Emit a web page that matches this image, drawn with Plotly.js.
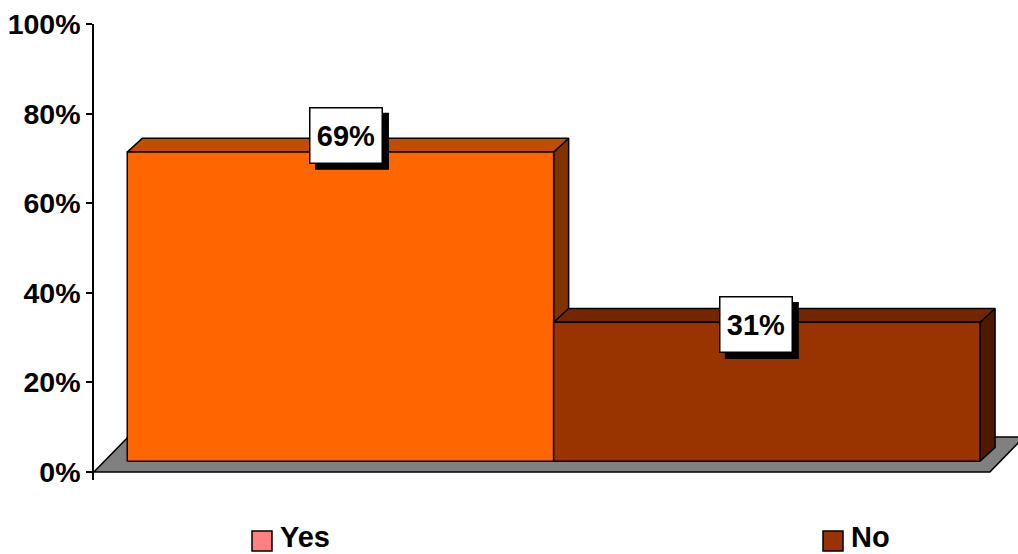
<!DOCTYPE html>
<html>
<head>
<meta charset="utf-8">
<script src="https://cdn.plot.ly/plotly-3.0.1.min.js"></script>
<style>html,body{margin:0;padding:0;background:#fff;}#chart{width:1018px;height:554px;}</style>
</head>
<body>
<div id="chart"></div>
<script>
// ---- data ----
const categories = ['Yes', 'No'];
const values = [69, 31];
const valueLabels = ['69%', '31%'];
const tickValues = [0, 20, 40, 60, 80, 100];
const tickLabels = ['0%', '20%', '40%', '60%', '80%', '100%'];

// ---- style ----
const frontColors = ['#FF6600', '#993300'];
const topColors = ['#C04D00', '#732600'];
const sideColors = ['#803300', '#4D1A00'];
const legendColors = ['#FF8080', '#993300'];
const FONT = '"Liberation Sans", Arial, sans-serif';

// 3D geometry in axis units
const HALF = 0.5;      // half bar width (categories 1 apart)
const BASE = 2.4;      // front face bottom above the floor front edge
const DX = 0.0352;     // depth offset x
const DY = 3.1;        // depth offset y
const XMIN = -0.578, XMAX = 1.589;
const FLOOR_DX = 0.08, FLOOR_DY = 7.8;

// plot-area pixel frame (for paper-coordinate legend placement)
const PL = 94, PW = 924, PB = 480, PH = 456;
const px2x = p => (p - PL) / PW;
const px2y = p => (PB - p) / PH;

const traces = [];
const line = {color: '#000', width: 1.5};

// floor
const fx0 = XMIN, fx1 = 1.523;
traces.push({
  type: 'scatter', mode: 'lines', fill: 'toself', fillcolor: '#808080',
  x: [fx0, fx0 + FLOOR_DX, fx1 + FLOOR_DX, fx1, fx0],
  y: [0, FLOOR_DY, FLOOR_DY, 0, 0],
  line: line, showlegend: false, hoverinfo: 'skip'
});

categories.forEach((c, i) => {
  const x0 = i - HALF, x1 = i + HALF;
  const top = values[i] + BASE;
  traces.push({
    type: 'scatter', mode: 'lines', fill: 'toself', fillcolor: sideColors[i],
    x: [x1, x1, x1 + DX, x1 + DX, x1],
    y: [BASE, top, top + DY, BASE + DY, BASE],
    line: line, showlegend: false, hoverinfo: 'skip'
  });
  traces.push({
    type: 'scatter', mode: 'lines', fill: 'toself', fillcolor: topColors[i],
    x: [x0, x0 + DX, x1 + DX, x1, x0],
    y: [top, top + DY, top + DY, top, top],
    line: line, showlegend: false, hoverinfo: 'skip'
  });
  traces.push({
    type: 'scatter', mode: 'lines', fill: 'toself', fillcolor: frontColors[i],
    x: [x0, x0, x1, x1, x0],
    y: [BASE, top, top, BASE, BASE],
    line: line, showlegend: false, name: c,
    hovertemplate: c + ': ' + values[i] + '%<extra></extra>'
  });
});

// data labels with shadows
const labelShiftX = [5.5, -11];
const labelShiftY = [3, -16];
const BOXW = 74, BOXH = 57, SH = 6;
const annotations = [];
const shapes = [];
categories.forEach((c, i) => {
  const ya = values[i] + BASE + DY;
  shapes.push({
    type: 'rect', xref: 'x', yref: 'y', xsizemode: 'pixel', ysizemode: 'pixel',
    xanchor: i, yanchor: ya,
    x0: labelShiftX[i] - BOXW / 2 + SH, x1: labelShiftX[i] + BOXW / 2 + SH,
    y0: labelShiftY[i] - BOXH / 2 - SH, y1: labelShiftY[i] + BOXH / 2 - SH,
    fillcolor: '#000', line: {width: 0}, layer: 'above'
  });
  annotations.push({
    x: i, y: ya, xref: 'x', yref: 'y', showarrow: false,
    xshift: labelShiftX[i], yshift: labelShiftY[i],
    text: valueLabels[i], width: BOXW - 3, height: BOXH - 3, borderpad: 0, borderwidth: 1.5,
    bgcolor: '#fff', bordercolor: '#000',
    font: {family: FONT, size: 29, weight: 'bold', color: '#000'}
  });
});

// legend (drawn as key squares + labels)
const legendSquareLeft = [252, 823];
const legendTextLeft = [279, 850];
categories.forEach((c, i) => {
  shapes.push({
    type: 'rect', xref: 'paper', yref: 'paper',
    x0: px2x(legendSquareLeft[i]), x1: px2x(legendSquareLeft[i] + 20),
    y0: px2y(551), y1: px2y(531),
    fillcolor: legendColors[i], line: {color: '#000', width: 1.5}, layer: 'above'
  });
  annotations.push({
    x: px2x(legendTextLeft[i]), y: px2y(554), xref: 'paper', yref: 'paper',
    xanchor: 'left', yanchor: 'bottom', showarrow: false, borderpad: 0,
    text: c, font: {family: FONT, size: 29, weight: 'bold', color: '#000'}
  });
});

const layout = {
  width: 1018, height: 554,
  margin: {l: 94, r: 0, t: 24, b: 74, pad: 0, autoexpand: false},
  paper_bgcolor: '#fff', plot_bgcolor: 'rgba(0,0,0,0)',
  font: {family: FONT, size: 28, color: '#000', weight: 'bold'},
  showlegend: false,
  xaxis: {range: [XMIN, XMAX], visible: false, fixedrange: true},
  yaxis: {
    range: [-1.8, 100], tickvals: tickValues, ticktext: tickLabels,
    showline: true, linecolor: '#000', linewidth: 1.5,
    ticks: 'outside', ticklen: 6, tickwidth: 1.5, tickcolor: '#000',
    showgrid: false, zeroline: false, fixedrange: true,
    tickfont: {family: FONT, size: 28.5, weight: 'bold', color: '#000'}
  },
  shapes: shapes,
  annotations: annotations
};

Plotly.newPlot('chart', traces, layout, {displayModeBar: false});
</script>
</body>
</html>
